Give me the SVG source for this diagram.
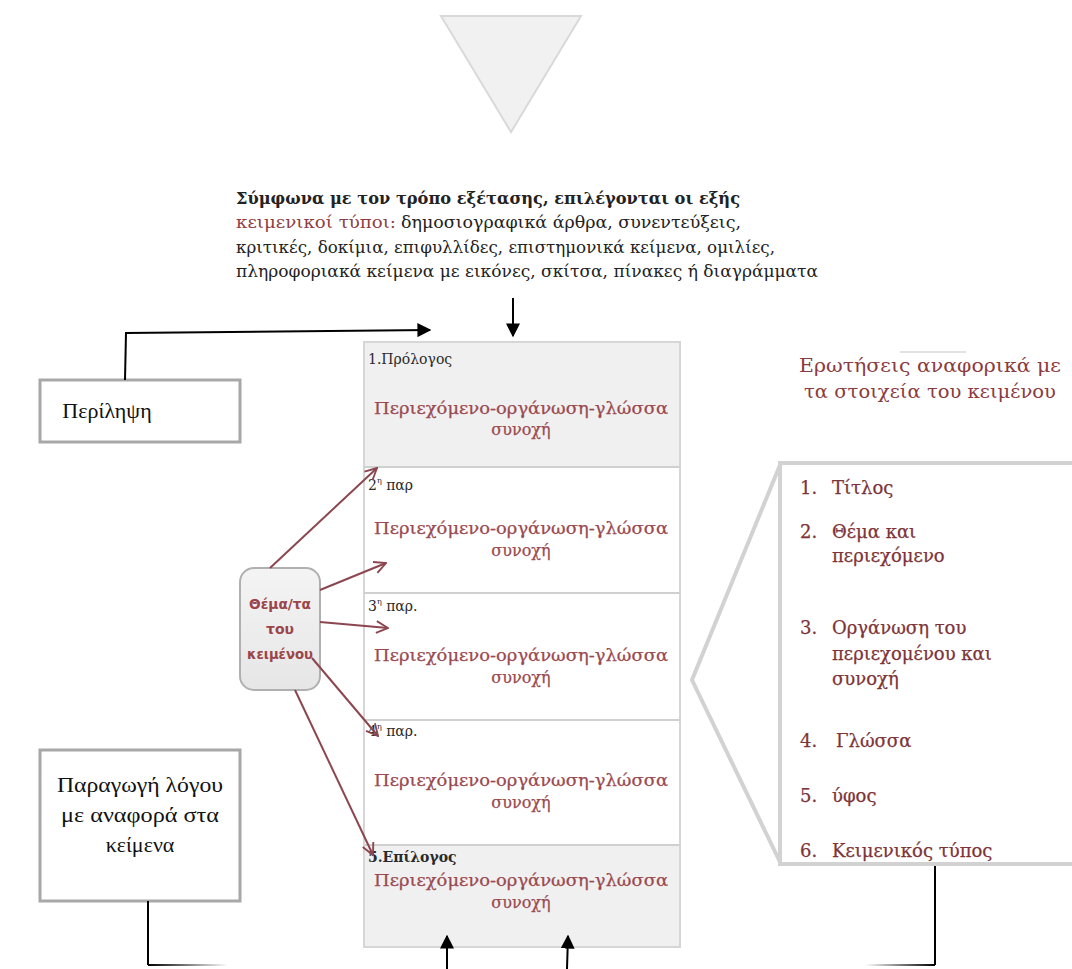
<svg xmlns="http://www.w3.org/2000/svg" width="1072" height="969" viewBox="0 0 1072 969">
<defs>
<style>
.serif{font-family:"Liberation Serif","DejaVu Serif",serif;}
.gs{font-family:"DejaVu Serif","Liberation Serif",serif;}
.top{font-size:16px;fill:#222;}
.red{fill:#8f3e43;}
.lbl{font-size:14px;fill:#2a2a2a;}
.cnt{font-size:16px;fill:#9a4a50;text-anchor:middle;stroke:#9a4a50;stroke-width:0.25;}
.lst{font-size:18px;fill:#7d3438;stroke:#7d3438;stroke-width:0.25;}
.ttl{font-size:18.5px;fill:#8a3c3f;text-anchor:middle;}
.big{font-size:22px;fill:#111;text-anchor:middle;}
.theme{font-family:"DejaVu Sans","Liberation Sans",sans-serif;font-weight:bold;font-size:14px;fill:#9b4449;text-anchor:middle;}
.blk{stroke:#000;stroke-width:2;fill:none;}
.rd{stroke:#8c4650;stroke-width:2;fill:none;marker-end:url(#open);}
.gbox{fill:#fff;stroke:#a8a8a8;stroke-width:3;}
</style>
<marker id="big" viewBox="0 0 10 10" refX="9" refY="5" markerWidth="14" markerHeight="14" markerUnits="userSpaceOnUse" orient="auto">
<path d="M0,0 L10,5 L0,10 z" fill="#000"/>
</marker>
<marker id="open" viewBox="0 0 12 12" refX="11" refY="6" markerWidth="14" markerHeight="14" markerUnits="userSpaceOnUse" orient="auto">
<path d="M1,1 L11,6 L1,11" fill="none" stroke="#8c4650" stroke-width="1.6"/>
</marker>
<linearGradient id="fadeL" x1="0" x2="1" y1="0" y2="0">
<stop offset="0" stop-color="#000"/>
<stop offset="1" stop-color="#000" stop-opacity="0"/>
</linearGradient>
<linearGradient id="fadeR" x1="0" x2="1" y1="0" y2="0">
<stop offset="0" stop-color="#000" stop-opacity="0"/>
<stop offset="1" stop-color="#000"/>
</linearGradient>
<linearGradient id="themeFill" x1="0" x2="0" y1="0" y2="1">
<stop offset="0" stop-color="#f4f4f4"/>
<stop offset="1" stop-color="#e6e6e6"/>
</linearGradient>
</defs>
<rect width="1072" height="969" fill="#fff"/>

<g id="triangle">
<polygon points="441,16 581,16 511,132" fill="#f1f1f1" stroke="#d9d9d9" stroke-width="2"/>
</g>

<g id="intro" class="gs">
<text class="top" x="236" y="204" font-size="17" font-weight="bold" fill="#1e1e1e" textLength="504" lengthAdjust="spacingAndGlyphs">Σύμφωνα με τον τρόπο εξέτασης, επιλέγονται οι εξής</text>
<text class="top red" x="236" y="228" textLength="160" lengthAdjust="spacingAndGlyphs">κειμενικοί τύποι:</text>
<text class="top" x="401" y="228" textLength="340" lengthAdjust="spacingAndGlyphs">δημοσιογραφικά άρθρα, συνεντεύξεις,</text>
<text class="top" x="236" y="253" textLength="539" lengthAdjust="spacingAndGlyphs">κριτικές, δοκίμια, επιφυλλίδες, επιστημονικά κείμενα, ομιλίες,</text>
<text class="top" x="236" y="277" textLength="582" lengthAdjust="spacingAndGlyphs">πληροφοριακά κείμενα με εικόνες, σκίτσα, πίνακες ή διαγράμματα</text>
</g>

<g id="summary">
<rect class="gbox" x="40" y="380" width="200" height="62"/>
<text class="serif big" x="107" y="418">Περίληψη</text>
</g>

<g id="production">
<rect class="gbox" x="40" y="750" width="200" height="151"/>
<text class="serif big" x="140" y="792" textLength="166" lengthAdjust="spacingAndGlyphs">Παραγωγή λόγου</text>
<text class="serif big" x="140" y="822" textLength="158" lengthAdjust="spacingAndGlyphs">με αναφορά στα</text>
<text class="serif big" x="140" y="852">κείμενα</text>
</g>

<g id="structure" class="gs">
<rect x="364" y="342" width="316" height="605" fill="#fff" stroke="#d6d6d6" stroke-width="2"/>
<rect x="365" y="343" width="314" height="124" fill="#f0f0f0"/>
<rect x="365" y="846" width="314" height="100" fill="#f0f0f0"/>
<g stroke="#d0d0d0" stroke-width="2">
<line x1="364" y1="467" x2="680" y2="467"/>
<line x1="364" y1="593" x2="680" y2="593"/>
<line x1="364" y1="720" x2="680" y2="720"/>
<line x1="364" y1="845" x2="680" y2="845"/>
</g>
<text class="lbl" x="368" y="364">1.Πρόλογος</text>
<text class="cnt" x="521" y="414" textLength="294" lengthAdjust="spacingAndGlyphs">Περιεχόμενο-οργάνωση-γλώσσα</text>
<text class="cnt" x="521" y="435">συνοχή</text>
<text class="lbl" x="368" y="490" font-size="16">2<tspan font-size="8" dy="-7">η</tspan><tspan dy="7" font-size="14"> παρ</tspan></text>
<text class="cnt" x="521" y="534" textLength="294" lengthAdjust="spacingAndGlyphs">Περιεχόμενο-οργάνωση-γλώσσα</text>
<text class="cnt" x="521" y="556">συνοχή</text>
<text class="lbl" x="368" y="611" font-size="16">3<tspan font-size="8" dy="-7">η</tspan><tspan dy="7" font-size="14"> παρ.</tspan></text>
<text class="cnt" x="521" y="661" textLength="294" lengthAdjust="spacingAndGlyphs">Περιεχόμενο-οργάνωση-γλώσσα</text>
<text class="cnt" x="521" y="683">συνοχή</text>
<text class="lbl" x="368" y="736" font-size="16">4<tspan font-size="8" dy="-7">η</tspan><tspan dy="7" font-size="14"> παρ.</tspan></text>
<text class="cnt" x="521" y="786" textLength="294" lengthAdjust="spacingAndGlyphs">Περιεχόμενο-οργάνωση-γλώσσα</text>
<text class="cnt" x="521" y="808">συνοχή</text>
<text class="lbl" x="368" y="862" font-weight="bold" font-size="13.5">5.Επίλογος</text>
<text class="cnt" x="521" y="886" textLength="294" lengthAdjust="spacingAndGlyphs">Περιεχόμενο-οργάνωση-γλώσσα</text>
<text class="cnt" x="521" y="908">συνοχή</text>
</g>

<g id="theme">
<rect x="240" y="568" width="80" height="122" rx="14" fill="url(#themeFill)" stroke="#b0b0b0" stroke-width="2"/>
<text class="theme" x="280" y="609" textLength="62" lengthAdjust="spacingAndGlyphs">Θέμα/τα</text>
<text class="theme" x="280" y="634">του</text>
<text class="theme" x="280" y="659" textLength="66" lengthAdjust="spacingAndGlyphs">κειμένου</text>
</g>

<g id="questions">
<line x1="900" y1="352" x2="966" y2="352" stroke="#d8d8d8" stroke-width="1.5"/>
<text class="gs ttl" x="930" y="372" textLength="262" lengthAdjust="spacingAndGlyphs">Ερωτήσεις αναφορικά με</text>
<text class="gs ttl" x="930" y="398" textLength="252" lengthAdjust="spacingAndGlyphs">τα στοιχεία του κειμένου</text>
<rect x="780" y="463" width="300" height="401" fill="#fff" stroke="#d2d2d2" stroke-width="4"/>
<polyline points="780,465 692,680 780,862" fill="none" stroke="#d2d2d2" stroke-width="4"/>
<g class="gs lst">
<text x="800" y="494">1.</text><text x="832" y="494">Τίτλος</text>
<text x="800" y="538">2.</text><text x="832" y="538">Θέμα και</text>
<text x="832" y="562">περιεχόμενο</text>
<text x="800" y="634">3.</text><text x="832" y="634">Οργάνωση του</text>
<text x="832" y="660">περιεχομένου και</text>
<text x="832" y="685">συνοχή</text>
<text x="800" y="747">4.</text><text x="836" y="747">Γλώσσα</text>
<text x="800" y="802">5.</text><text x="832" y="802">ύφος</text>
<text x="800" y="857">6.</text><text x="832" y="857">Κειμενικός τύπος</text>
</g>
</g>

<g id="connectors">
<polyline class="blk" points="125,380 126,333 430,330" marker-end="url(#big)"/>
<line class="blk" x1="513" y1="298" x2="513" y2="336" stroke-width="3" marker-end="url(#big)"/>
<line class="blk" x1="447" y1="969" x2="447" y2="936" marker-end="url(#big)"/>
<line class="blk" x1="567" y1="969" x2="568" y2="936" marker-end="url(#big)"/>
<line class="blk" x1="148" y1="901" x2="148" y2="965"/>
<rect x="148" y="964" width="80" height="2" fill="url(#fadeL)"/>
<line class="blk" x1="935" y1="866" x2="935" y2="965"/>
<rect x="865" y="964" width="70" height="2" fill="url(#fadeR)"/>
<line class="rd" x1="270" y1="568" x2="377" y2="468"/>
<line class="rd" x1="320" y1="590" x2="386" y2="563"/>
<line class="rd" x1="320" y1="622" x2="388" y2="628"/>
<line class="rd" x1="312" y1="658" x2="378" y2="736"/>
<line class="rd" x1="295" y1="690" x2="373" y2="855"/>
</g>
</svg>
